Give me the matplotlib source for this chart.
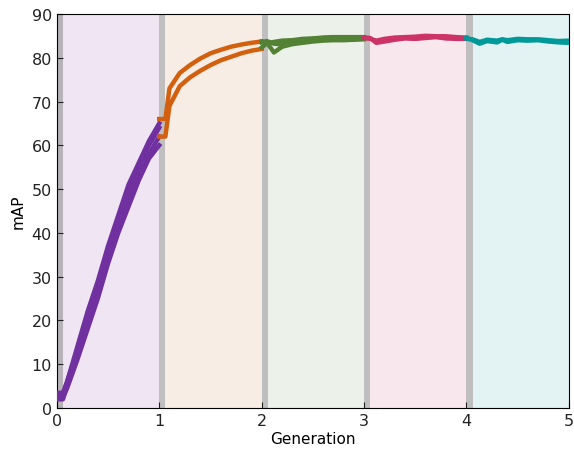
import matplotlib
matplotlib.use('Agg')
import matplotlib.pyplot as plt

# Generation 0 (several runs)
x_g0 = [0, 0.06, 0.1, 0.2, 0.3, 0.4, 0.5, 0.6, 0.7, 0.8, 0.9, 1.0]
g0_runs = [
    [2.0, 2.0, 5.0, 12.0, 19.0, 26.0, 34.0, 41.0, 48.0, 53.0, 58.0, 62.0],
    [3.0, 3.0, 6.0, 13.0, 21.0, 28.0, 36.0, 43.0, 50.0, 55.0, 60.0, 64.0],
    [2.5, 2.5, 4.5, 11.0, 18.0, 25.0, 33.0, 40.0, 46.0, 52.0, 57.0, 60.0],
    [3.5, 3.5, 6.0, 14.0, 22.0, 29.0, 37.0, 44.0, 51.0, 56.0, 61.0, 65.0],
]

# Generation 1
x_g1 = [1.0, 1.06, 1.1, 1.2, 1.3, 1.4, 1.5, 1.6, 1.7, 1.8, 1.9, 2.0]
g1_runs = [
    [66.0, 66.0, 73.0, 76.5, 78.3, 79.8, 81.0, 81.8, 82.5, 83.0, 83.4, 83.7],
    [62.0, 62.0, 69.0, 73.5, 75.5, 77.0, 78.3, 79.4, 80.2, 81.0, 81.6, 82.0],
]

# Generation 2
x_g2 = [2.0, 2.05, 2.12, 2.2, 2.3, 2.4, 2.5, 2.6, 2.7, 2.8, 2.9, 3.0]
g2_runs = [
    [83.7, 83.5, 81.2, 82.5, 83.1, 83.4, 83.7, 83.9, 84.0, 84.0, 84.1, 84.2],
    [82.3, 83.3, 83.6, 83.9, 84.0, 84.3, 84.4, 84.6, 84.7, 84.7, 84.7, 84.7],
    [83.5, 83.8, 83.2, 83.0, 83.5, 84.0, 84.3, 84.5, 84.6, 84.6, 84.6, 84.6],
]

# Generation 3
x_g3 = [3.0, 3.06, 3.12, 3.2, 3.3, 3.4, 3.5, 3.6, 3.7, 3.8, 3.9, 4.0]
g3_runs = [
    [84.6, 84.5, 83.4, 83.7, 84.1, 84.4, 84.3, 84.5, 84.7, 84.4, 84.3, 84.3],
    [84.5, 84.3, 83.9, 84.3, 84.6, 84.7, 84.8, 85.0, 84.9, 84.9, 84.7, 84.6],
]

# Generation 4
x_g4 = [4.0, 4.06, 4.13, 4.2, 4.3, 4.35, 4.4, 4.5, 4.6, 4.7, 4.8, 4.9, 5.0]
g4_runs = [
    [84.5, 84.0, 83.2, 83.8, 83.5, 84.1, 83.6, 84.0, 83.9, 84.0, 83.7, 83.5, 83.4],
    [84.4, 84.2, 83.6, 84.1, 83.9, 84.2, 84.0, 84.3, 84.2, 84.2, 84.0, 83.8, 83.9],
]

generations = [0, 1, 2, 3, 4]
line_colors = ['#7030a0', '#d2600f', '#548235', '#cc3366', '#009999']
bg_colors = ['#efe5f3', '#f8ede4', '#ecf1e9', '#f8e8ed', '#e3f3f3']
all_x = [x_g0, x_g1, x_g2, x_g3, x_g4]
all_runs = [g0_runs, g1_runs, g2_runs, g3_runs, g4_runs]

band = 0.06

fig = plt.figure(figsize=(5.74, 4.52), dpi=100)
ax = fig.add_axes([0.099, 0.095, 0.892, 0.872])

for g, bg in zip(generations, bg_colors):
    start = g if g == 0 else g + band
    ax.axvspan(start, g + 1, color=bg, lw=0, zorder=0)
    ax.axvspan(g, g + band, color='#808080', alpha=0.5, lw=0, zorder=1)

for xs, runs, c in zip(all_x, all_runs, line_colors):
    for ys in runs:
        ax.plot(xs, ys, color=c, lw=3.2, zorder=3)

ax.set_xlim(0, 5)
ax.set_ylim(0, 90)
ax.set_xticks(range(0, 6))
ax.set_yticks(range(0, 91, 10))
ax.tick_params(direction='in', labelsize=11.5, length=4, colors='#222222')
ax.set_xlabel('Generation', fontsize=11, labelpad=2)
ax.set_ylabel('mAP', fontsize=11)

plt.savefig('out.png', dpi=100)
plt.close()
